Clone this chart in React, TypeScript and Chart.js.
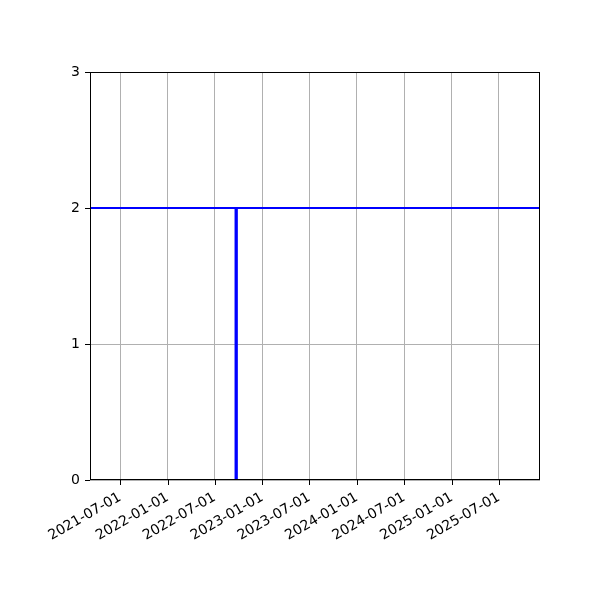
import React, { useEffect, useRef } from 'react';
import { Chart, registerables } from 'chart.js';

Chart.register(...registerables);

// x range of the axes
const xRange = ['2021-03-07', '2025-12-07'];
// date ticks shown on the x axis
const xTickLabels = [
  '2021-07-01', '2022-01-01', '2022-07-01', '2023-01-01', '2023-07-01',
  '2024-01-01', '2024-07-01', '2025-01-01', '2025-07-01',
];
const yTicks = [0, 1, 2, 3];

// horizontal level line
const levelDates = ['2021-03-07', '2025-12-07'];
const levelValues = [2, 2];

// vertical event line
const eventDates = ['2022-09-22', '2022-09-22'];
const eventValues = [0, 2];

const toMs = (d: string) => Date.parse(d + 'T00:00:00Z');
const fmt = (v: number) => new Date(v).toISOString().slice(0, 10);

const framePlugin = {
  id: 'frame',
  afterDraw(chart: any) {
    const { ctx, chartArea: a, scales } = chart;
    ctx.save();
    ctx.strokeStyle = '#000';
    ctx.lineWidth = 1;
    ctx.strokeRect(a.left + 0.5, a.top + 0.5, a.right - a.left - 1, a.bottom - a.top - 1);
    ctx.beginPath();
    scales.x.ticks.forEach((t: any) => {
      const px = Math.round(scales.x.getPixelForValue(t.value)) + 0.5;
      ctx.moveTo(px, a.bottom);
      ctx.lineTo(px, a.bottom + 5);
    });
    scales.y.ticks.forEach((t: any) => {
      const py = Math.round(scales.y.getPixelForValue(t.value)) + 0.5;
      ctx.moveTo(a.left, py);
      ctx.lineTo(a.left - 5, py);
    });
    ctx.stroke();
    ctx.restore();
  },
};

const App: React.FC = () => {
  const chartRef = useRef<HTMLCanvasElement>(null);
  const chartInstanceRef = useRef<Chart | null>(null);

  useEffect(() => {
    document.body.style.margin = '0';
    if (!chartRef.current) return;
    if (chartInstanceRef.current) chartInstanceRef.current.destroy();

    const font = { family: 'DejaVu Sans', size: 14 };

    chartInstanceRef.current = new Chart(chartRef.current, {
      type: 'line',
      data: {
        datasets: [
          {
            data: levelDates.map((d, i) => ({ x: toMs(d), y: levelValues[i] })),
            borderColor: '#0000ff',
            borderWidth: 2,
            pointRadius: 0,
          },
          {
            data: eventDates.map((d, i) => ({ x: toMs(d), y: eventValues[i] })),
            borderColor: '#0000ff',
            borderWidth: 3.3,
            pointRadius: 0,
            borderCapStyle: 'butt',
          },
        ],
      },
      options: {
        animation: false,
        responsive: false,
        layout: { padding: { left: 0, top: 72, right: 60, bottom: 0 } },
        plugins: { legend: { display: false }, tooltip: { enabled: false } },
        scales: {
          x: {
            type: 'linear',
            min: toMs(xRange[0]),
            max: toMs(xRange[1]),
            afterBuildTicks: (scale: any) => {
              scale.ticks = xTickLabels.map((d) => ({ value: toMs(d) }));
            },
            afterFit: (scale: any) => {
              scale.height = 120;
            },
            grid: { color: '#b0b0b0', lineWidth: 1, drawTicks: false },
            border: { display: false },
            ticks: {
              autoSkip: false,
              minRotation: 30,
              maxRotation: 30,
              padding: 9,
              color: '#000',
              font,
              callback: (v: any) => fmt(Number(v)),
            },
          },
          y: {
            min: 0,
            max: 3,
            afterBuildTicks: (scale: any) => {
              scale.ticks = yTicks.map((v) => ({ value: v }));
            },
            afterFit: (scale: any) => {
              scale.width = 90;
            },
            grid: { color: '#b0b0b0', lineWidth: 1, drawTicks: false },
            border: { display: false },
            ticks: { padding: 10, color: '#000', font },
          },
        },
      },
      plugins: [framePlugin],
    } as any);

    return () => {
      if (chartInstanceRef.current) {
        chartInstanceRef.current.destroy();
        chartInstanceRef.current = null;
      }
    };
  }, []);

  return (
    <div style={{ width: 600, height: 600 }}>
      <canvas ref={chartRef} width={600} height={600} />
    </div>
  );
};

export default App;
